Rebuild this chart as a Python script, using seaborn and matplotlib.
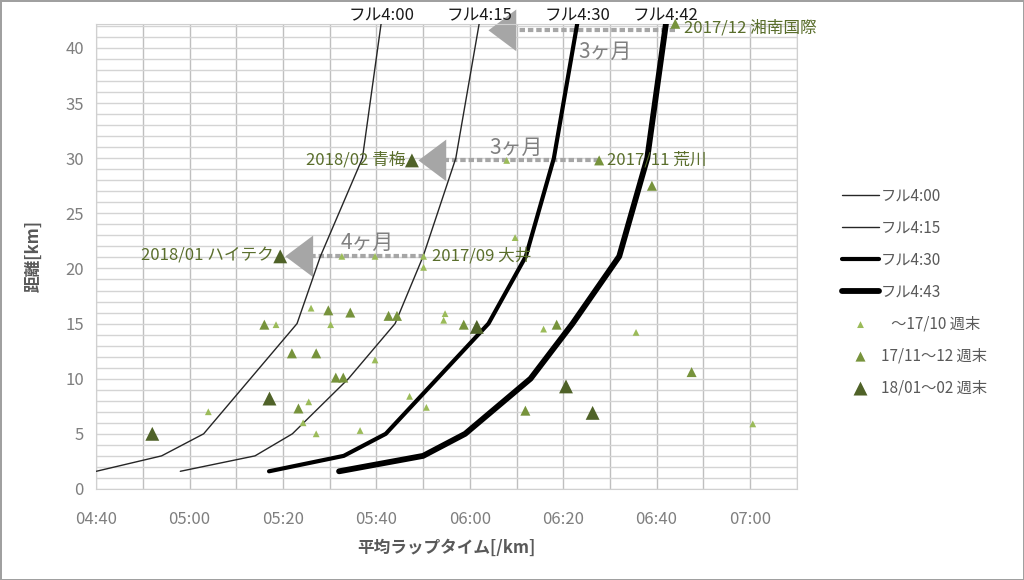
import numpy as np
import pandas as pd
import matplotlib
matplotlib.use('Agg')
import matplotlib.pyplot as plt
from matplotlib.ticker import MultipleLocator, FuncFormatter
import seaborn as sns

# 目標ペース曲線 (距離[km] と 平均ペース[秒/km])
dist_km = [1.6, 3, 5, 10, 15, 21.0975, 30, 42.195]
pace_400 = [280, 294, 303, 313, 323, 328, 337, 341]
pace_415 = [298, 314, 322, 334, 344, 350, 357, 362]
pace_430 = [317, 333, 342, 353, 364, 372, 378, 383]
pace_443 = [332, 350, 359, 373, 382, 392, 398, 402]
plan_names = ['フル4:00', 'フル4:15', 'フル4:30', 'フル4:43']
top_labels = ['フル4:00', 'フル4:15', 'フル4:30', 'フル4:42']

# 練習・レース記録 (ペース[秒/km], 距離[km])
light_pace = [304, 318.5, 326, 325.5, 324.3, 327.1, 330.2, 336.5, 339.7, 347.1,
              350.7, 350.1, 350.1, 332.6, 339.7, 354.7, 354.4, 369.7, 367.9,
              375.8, 395.6, 420.6]
light_km = [7.0, 14.9, 16.4, 7.9, 6.0, 5.0, 14.9, 5.3, 11.7, 8.4,
            7.4, 20.1, 21.0975, 21.1, 21.1, 15.9, 15.3, 22.8, 29.8,
            14.5, 14.2, 5.9]
mid_pace = [316, 321.9, 327.1, 323.3, 329.7, 331.3, 332.9, 334.4, 342.6, 344.4,
            358.7, 378.6, 371.9, 407.5, 399.0, 387.7, 404]
mid_km = [14.9, 12.3, 12.3, 7.3, 16.2, 10.1, 10.1, 16.0, 15.7, 15.7,
          14.9, 14.9, 7.1, 10.6, 27.5, 29.8, 42.195]
dark_pace = [292, 317.1, 319.4, 347.6, 361.5, 380.6, 386.3]
dark_km = [5.0, 8.2, 21.0975, 29.8, 14.7, 9.3, 6.9]

# レース名ラベル
race_labels = ['2018/01 ハイテク', '2017/09 大井', '2018/02 青梅', '2017/11 荒川', '2017/12 湘南国際']
race_pace = [319.4, 350.1, 347.6, 387.7, 404]
race_km = [21.0975, 21.0975, 29.8, 29.8, 42.195]

# 改善矢印 (古い記録 -> 新しい記録)
gap_labels = ['4ヶ月', '3ヶ月', '3ヶ月']
gap_from = [350.1, 387.7, 404]
gap_to = [320.5, 349.0, 364]
gap_km = [21.0975, 29.8, 41.6]
gap_text_x = [338, 370, 389]
gap_text_y = [22.3, 30.9, 39.6]

sns.set_style('white')
plt.rcParams['font.family'] = ['Noto Sans CJK JP', 'DejaVu Sans']

fig = plt.figure(figsize=(10.24, 5.8), dpi=100)
fig.patch.set_edgecolor('#a0a0a0')
fig.patch.set_linewidth(2)
ax = fig.add_axes([0.094, 0.157, 0.684, 0.802])

# 目標線
line_df = pd.DataFrame({
    'km': dist_km * 4,
    'pace': pace_400 + pace_415 + pace_430 + pace_443,
    'plan': np.repeat(plan_names, len(dist_km)),
})
widths = [1.0, 1.0, 3.0, 4.2]
colors = ['#262626', '#262626', 'black', 'black']
for name, lw, c in zip(plan_names, widths, colors):
    sub = line_df[line_df['plan'] == name]
    sns.lineplot(data=sub, x='pace', y='km', sort=False, estimator=None,
                 color=c, lw=lw, label=name, ax=ax, zorder=3)

# 改善の点線と矢印
for lab, x0, x1, y, tx, ty in zip(gap_labels, gap_from, gap_to, gap_km, gap_text_x, gap_text_y):
    head = 6
    ax.plot([x0, x1 + head], [y, y], color='#a6a6a6', lw=3, dashes=(1.3, 0.7),
            solid_capstyle='butt', zorder=2)
    ax.annotate('', xy=(x1, y), xytext=(x1 + head, y),
                arrowprops=dict(arrowstyle='-|>,head_length=1.0,head_width=0.75',
                                mutation_scale=20, color='#a6a6a6', lw=0,
                                shrinkA=0, shrinkB=0), zorder=2)
    ax.text(tx, ty, lab, color='#808080', fontsize=15, ha='center', va='center', zorder=2)

# 記録
sns.scatterplot(x=light_pace, y=light_km, marker='^', s=24, color='#9BBB59',
                edgecolor='none', label='   ～17/10 週末', ax=ax, zorder=4, clip_on=False)
sns.scatterplot(x=mid_pace, y=mid_km, marker='^', s=52, color='#77933C',
                edgecolor='none', label='17/11～12 週末', ax=ax, zorder=4, clip_on=False)
sns.scatterplot(x=dark_pace, y=dark_km, marker='^', s=100, color='#4F6228',
                edgecolor='none', label='18/01～02 週末', ax=ax, zorder=5, clip_on=False)

for lab, x, y in zip(race_labels, race_pace, race_km):
    if lab.startswith('2018'):
        ax.annotate(lab, (x, y), xytext=(-5, 0), textcoords='offset points',
                    ha='right', va='center', fontsize=12, color='#5a6e2c')
    else:
        dy = -3 if y > 40 else 0
        ax.annotate(lab, (x, y), xytext=(6, dy), textcoords='offset points',
                    ha='left', va='center', fontsize=12, color='#5a6e2c')

# 線の上端ラベル
tops = [pace_400[-1], pace_415[-1], pace_430[-1], pace_443[-1]]
for lab, x in zip(top_labels, tops):
    ax.annotate(lab, (x, dist_km[-1]), xytext=(0, 6), textcoords='offset points',
                ha='center', va='center', fontsize=12, color='#1a1a1a')

ax.set_xlim(280, 430)
ax.set_ylim(0, 42.195)
ax.xaxis.set_major_locator(MultipleLocator(20))
ax.xaxis.set_minor_locator(MultipleLocator(10))
ax.yaxis.set_major_locator(MultipleLocator(5))
ax.yaxis.set_minor_locator(MultipleLocator(1))
ax.xaxis.set_major_formatter(FuncFormatter(lambda v, p: '%02d:%02d' % divmod(int(round(v)), 60)))
ax.grid(True, axis='x', which='both', color='#bfbfbf', lw=1)
ax.grid(True, axis='y', which='both', color='#d4d4d4', lw=1)
ax.set_axisbelow(True)
ax.tick_params(which='both', length=0, labelsize=12, labelcolor='#7f7f7f')
ax.tick_params(axis='y', pad=9)
ax.tick_params(axis='x', pad=16)
for s in ax.spines.values():
    s.set_color('#d0d0d0')

ax.set_xlabel('平均ラップタイム[/km]', fontsize=12, color='#595959', fontweight='bold', labelpad=8)
ax.set_ylabel('距離[km]', fontsize=12, color='#595959', fontweight='bold', labelpad=16)

ax.legend(loc='upper left', bbox_to_anchor=(0.809, 0.70), bbox_transform=fig.transFigure,
          frameon=False, fontsize=11, labelcolor='#595959', handlelength=2.4,
          labelspacing=0.98, handletextpad=0.15)

fig.savefig('out.png', dpi=100)
